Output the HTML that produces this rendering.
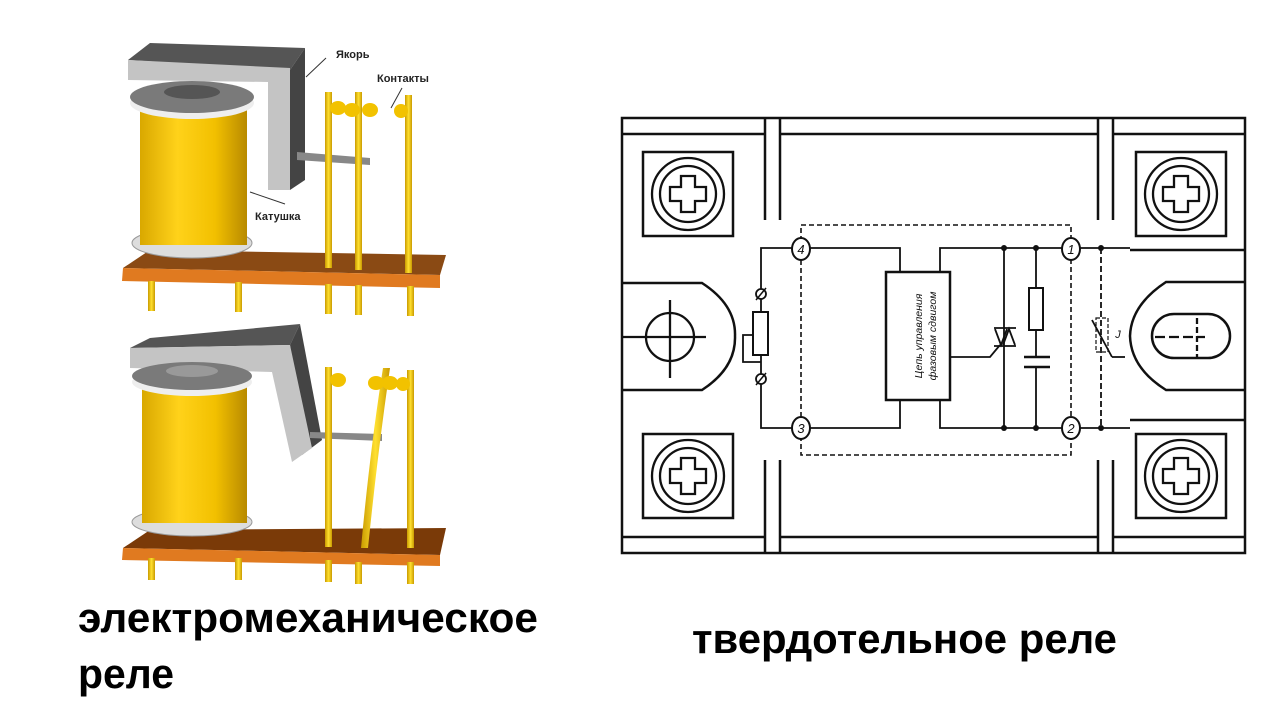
<!DOCTYPE html>
<html><head><meta charset="utf-8"><style>
html,body{margin:0;padding:0;background:#fff;width:1280px;height:720px;overflow:hidden}
svg{display:block}
</style></head><body>
<svg width="1280" height="720" viewBox="0 0 1280 720" xmlns="http://www.w3.org/2000/svg" font-family="Liberation Sans, DejaVu Sans, sans-serif">
<defs>
<linearGradient id="coil" x1="0" x2="1">
<stop offset="0" stop-color="#d9a800"/><stop offset="0.35" stop-color="#ffd21a"/><stop offset="0.7" stop-color="#f2c000"/><stop offset="1" stop-color="#b88a00"/>
</linearGradient>
<linearGradient id="rod" x1="0" x2="1"><stop offset="0" stop-color="#c99a00"/><stop offset="0.5" stop-color="#ffe030"/><stop offset="1" stop-color="#c99a00"/></linearGradient>
</defs>

<!-- ===== TOP RELAY ===== -->
<g>
<polygon points="123,268 150,250 446,255 440,275" fill="#8a4a14"/>
<polygon points="123,268 440,275 440,288 122,281" fill="#e07a20"/>
<g fill="url(#rod)">
<rect x="148" y="281" width="7" height="30"/><rect x="235" y="282" width="7" height="30"/>
<rect x="325" y="284" width="7" height="30"/><rect x="355" y="285" width="7" height="30"/><rect x="407" y="286" width="7" height="30"/>
</g>
<polygon points="128,60 150,43 305,48 290,70" fill="#555"/>
<polygon points="290,70 305,48 305,180 290,190" fill="#444"/>
<polygon points="128,60 290,68 290,190 268,190 268,82 128,80" fill="#c4c4c4"/>
<ellipse cx="192" cy="243" rx="60" ry="15" fill="#ddd" stroke="#999"/>
<rect x="140" y="105" width="107" height="140" fill="url(#coil)"/>
<ellipse cx="192" cy="103" rx="62" ry="16" fill="#eee"/>
<ellipse cx="192" cy="97" rx="62" ry="16" fill="#7a7a7a"/>
<ellipse cx="192" cy="92" rx="28" ry="7" fill="#555"/>
<polygon points="297,152 370,158 370,165 297,160" fill="#888"/>
<g fill="url(#rod)">
<rect x="325" y="92" width="7" height="176"/><rect x="355" y="92" width="7" height="178"/><rect x="405" y="95" width="7" height="178"/>
</g>
<g fill="#f2c200">
<ellipse cx="338" cy="108" rx="8" ry="7"/><ellipse cx="352" cy="110" rx="8" ry="7"/><ellipse cx="370" cy="110" rx="8" ry="7"/><ellipse cx="401" cy="111" rx="7" ry="7"/>
</g>
<line x1="306" y1="77" x2="326" y2="58" stroke="#333"/>
<text x="336" y="58" font-size="11" font-weight="bold" fill="#222">Якорь</text>
<line x1="391" y1="108" x2="402" y2="88" stroke="#333"/>
<text x="377" y="82" font-size="11" font-weight="bold" fill="#222">Контакты</text>
<line x1="250" y1="192" x2="285" y2="204" stroke="#333"/>
<text x="255" y="220" font-size="11" font-weight="bold" fill="#222">Катушка</text>
</g>

<!-- ===== BOTTOM RELAY ===== -->
<g>
<polygon points="123,548 150,530 446,528 440,555" fill="#7a3a08"/>
<polygon points="123,548 440,555 440,566 122,560" fill="#e07a20"/>
<g fill="url(#rod)">
<rect x="148" y="558" width="7" height="22"/><rect x="235" y="558" width="7" height="22"/>
<rect x="325" y="560" width="7" height="22"/><rect x="355" y="562" width="7" height="22"/><rect x="407" y="562" width="7" height="22"/>
</g>
<polygon points="130,348 150,338 300,324 290,345" fill="#555"/>
<polygon points="290,345 300,324 322,440 302,455" fill="#444"/>
<polygon points="130,348 290,345 312,448 292,462 272,372 130,368" fill="#c4c4c4"/>
<ellipse cx="192" cy="522" rx="60" ry="14" fill="#ddd" stroke="#999"/>
<rect x="142" y="385" width="105" height="138" fill="url(#coil)"/>
<ellipse cx="192" cy="382" rx="60" ry="14" fill="#eee"/>
<ellipse cx="192" cy="376" rx="60" ry="14" fill="#7a7a7a"/>
<ellipse cx="192" cy="371" rx="26" ry="6" fill="#999"/>
<polygon points="310,432 382,434 382,441 310,438" fill="#888"/>
<g fill="url(#rod)">
<rect x="325" y="367" width="7" height="180"/><rect x="407" y="370" width="7" height="178"/>
<path d="M383,368 L390,368 Q378,450 368,548 L361,548 Q370,450 383,368 Z"/>
</g>
<g fill="#f2c200">
<ellipse cx="338" cy="380" rx="8" ry="7"/><ellipse cx="376" cy="383" rx="8" ry="7"/><ellipse cx="390" cy="383" rx="8" ry="7"/><ellipse cx="403" cy="384" rx="7" ry="7"/>
</g>
</g>

<!-- ===== SSR DIAGRAM ===== -->
<g fill="none" stroke="#111" stroke-width="2.5">
<rect x="622" y="118" width="623" height="435"/>
<line x1="622" y1="134" x2="765" y2="134"/><line x1="780" y1="134" x2="1098" y2="134"/><line x1="1113" y1="134" x2="1245" y2="134"/>
<line x1="622" y1="537" x2="765" y2="537"/><line x1="780" y1="537" x2="1098" y2="537"/><line x1="1113" y1="537" x2="1245" y2="537"/>
<line x1="765" y1="118" x2="765" y2="220"/><line x1="780" y1="118" x2="780" y2="220"/>
<line x1="1098" y1="118" x2="1098" y2="220"/><line x1="1113" y1="118" x2="1113" y2="220"/>
<line x1="765" y1="460" x2="765" y2="553"/><line x1="780" y1="460" x2="780" y2="553"/>
<line x1="1098" y1="460" x2="1098" y2="553"/><line x1="1113" y1="460" x2="1113" y2="553"/>
<rect x="643" y="152" width="90" height="84"/>
<rect x="1136" y="152" width="90" height="84"/>
<rect x="643" y="434" width="90" height="84"/>
<rect x="1136" y="434" width="90" height="84"/>
<path d="M622,283 L702,283 Q736,305 735,336 Q736,368 702,390 L622,390"/>
<path d="M1245,282 L1166,282 Q1131,305 1130,336 Q1131,368 1166,390 L1245,390"/>
<line x1="1130" y1="250" x2="1245" y2="250"/><line x1="1130" y1="420" x2="1245" y2="420"/>
<rect x="1152" y="314" width="78" height="44" rx="22"/>
<rect x="886" y="272" width="64" height="128"/>
</g>
<g fill="none" stroke="#111" stroke-width="2.3">
<g transform="translate(688,194)"><circle r="36"/><circle r="28"/><path d="M-7,-18 H7 V-7 H18 V7 H7 V18 H-7 V7 H-18 V-7 H-7 Z"/></g>
<g transform="translate(1181,194)"><circle r="36"/><circle r="28"/><path d="M-7,-18 H7 V-7 H18 V7 H7 V18 H-7 V7 H-18 V-7 H-7 Z"/></g>
<g transform="translate(688,476)"><circle r="36"/><circle r="28"/><path d="M-7,-18 H7 V-7 H18 V7 H7 V18 H-7 V7 H-18 V-7 H-7 Z"/></g>
<g transform="translate(1181,476)"><circle r="36"/><circle r="28"/><path d="M-7,-18 H7 V-7 H18 V7 H7 V18 H-7 V7 H-18 V-7 H-7 Z"/></g>
<circle cx="670" cy="337" r="24"/>
<line x1="622" y1="337" x2="706" y2="337"/><line x1="670" y1="300" x2="670" y2="378"/>
<line x1="1155" y1="337" x2="1205" y2="337" stroke-dasharray="10,4"/><line x1="1197" y1="318" x2="1197" y2="358" stroke-dasharray="6,3"/>
</g>
<rect x="801" y="225" width="270" height="230" fill="none" stroke="#111" stroke-width="1.6" stroke-dasharray="5,3"/>
<g fill="none" stroke="#111" stroke-width="1.8">
<polyline points="801,248 761,248 761,428 801,428"/>
<polyline points="801,248 900,248 900,272"/><polyline points="801,428 900,428 900,400"/>
<polyline points="940,272 940,248 1071,248"/><polyline points="940,400 940,428 1071,428"/>
<line x1="1071" y1="248" x2="1130" y2="248"/><line x1="1071" y1="428" x2="1130" y2="428"/>
<line x1="1004" y1="248" x2="1004" y2="428"/><line x1="1036" y1="248" x2="1036" y2="357"/><line x1="1036" y1="367" x2="1036" y2="428"/>
<line x1="1024" y1="357" x2="1050" y2="357" stroke-width="2.5"/><line x1="1024" y1="367" x2="1050" y2="367" stroke-width="2.5"/>
<line x1="1101" y1="248" x2="1101" y2="428" stroke-dasharray="6,3"/>
<polyline points="950,357 990,357 1000,345"/>
<line x1="994" y1="328" x2="1016" y2="328"/><line x1="994" y1="346" x2="1016" y2="346"/>
<path d="M995,329 L1001,345 L1007,329"/><path d="M1003,345 L1009,329 L1015,345"/>
<polyline points="753,335 743,335 743,362 761,362"/>
<line x1="1092" y1="320" x2="1112" y2="357"/><line x1="1112" y1="357" x2="1125" y2="357"/>
</g>
<rect x="753" y="312" width="15" height="43" fill="#fff" stroke="#111" stroke-width="2"/>
<rect x="1029" y="288" width="14" height="42" fill="#fff" stroke="#111" stroke-width="2"/>
<rect x="1096" y="318" width="12" height="34" fill="none" stroke="#111" stroke-width="1.2" stroke-dasharray="4,2"/>
<g fill="#fff" stroke="#111" stroke-width="1.8">
<ellipse cx="761" cy="294" rx="5" ry="5"/><ellipse cx="761" cy="379" rx="5" ry="5"/>
</g>
<g stroke="#111" stroke-width="1.5"><line x1="756" y1="300" x2="766" y2="288"/><line x1="756" y1="385" x2="766" y2="373"/></g>
<g fill="#111">
<circle cx="1004" cy="248" r="3"/><circle cx="1036" cy="248" r="3"/><circle cx="1101" cy="248" r="3"/>
<circle cx="1004" cy="428" r="3"/><circle cx="1036" cy="428" r="3"/><circle cx="1101" cy="428" r="3"/>
</g>
<g fill="#fff" stroke="#111" stroke-width="2">
<ellipse cx="801" cy="249" rx="9" ry="11"/><ellipse cx="801" cy="428" rx="9" ry="11"/>
<ellipse cx="1071" cy="249" rx="9" ry="11"/><ellipse cx="1071" cy="428" rx="9" ry="11"/>
</g>
<g font-size="13" font-style="italic" fill="#111" text-anchor="middle">
<text x="801" y="254">4</text><text x="801" y="433">3</text><text x="1071" y="254">1</text><text x="1071" y="433">2</text>
<text x="1118" y="338" font-size="11">J</text>
</g>
<text transform="translate(922,336) rotate(-90)" font-size="10.5" font-style="italic" fill="#111" text-anchor="middle">
<tspan x="0" y="0">Цепь управления</tspan><tspan x="0" y="14">фазовым сдвигом</tspan></text>

<text x="78" y="632" font-size="42" font-weight="bold" fill="#000" textLength="460" lengthAdjust="spacingAndGlyphs">электромеханическое</text>
<text x="78" y="688" font-size="42" font-weight="bold" fill="#000" textLength="96" lengthAdjust="spacingAndGlyphs">реле</text>
<text x="692" y="653" font-size="42" font-weight="bold" fill="#000" textLength="425" lengthAdjust="spacingAndGlyphs">твердотельное реле</text>
</svg>
</body></html>
